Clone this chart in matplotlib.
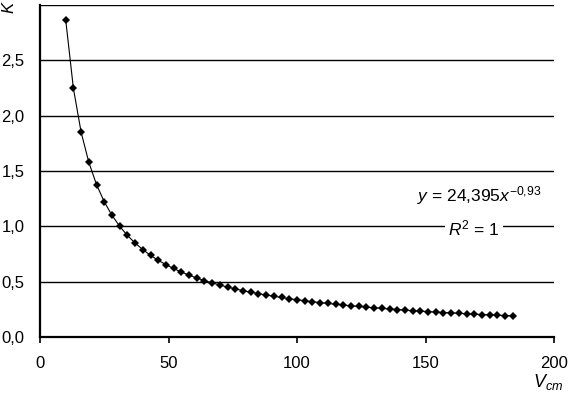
import matplotlib
matplotlib.use("Agg")
import matplotlib.pyplot as plt

v_cm = [10, 13, 16, 19, 22, 25, 28, 31, 34, 37, 40, 43, 46, 49, 52, 55, 58, 61,
        64, 67, 70, 73, 76, 79, 82, 85, 88, 91, 94, 97, 100, 103, 106, 109, 112,
        115, 118, 121, 124, 127, 130, 133, 136, 139, 142, 145, 148, 151, 154,
        157, 160, 163, 166, 169, 172, 175, 178, 181, 184]
k_vals = [2.866, 2.246, 1.851, 1.578, 1.377, 1.222, 1.100, 1.001, 0.918, 0.849,
          0.790, 0.738, 0.693, 0.654, 0.619, 0.587, 0.559, 0.533, 0.510, 0.489,
          0.469, 0.451, 0.435, 0.419, 0.405, 0.392, 0.379, 0.368, 0.357, 0.346,
          0.337, 0.328, 0.319, 0.311, 0.303, 0.296, 0.289, 0.282, 0.276, 0.270,
          0.264, 0.258, 0.253, 0.248, 0.243, 0.238, 0.234, 0.230, 0.225, 0.221,
          0.218, 0.214, 0.210, 0.207, 0.203, 0.200, 0.197, 0.194, 0.191]

x_ticks = [0, 50, 100, 150, 200]
y_ticks = [0.0, 0.5, 1.0, 1.5, 2.0, 2.5, 3.0]
y_tick_labels = ["0,0", "0,5", "1,0", "1,5", "2,0", "2,5", ""]

plt.rcParams['font.family'] = ['Liberation Sans', 'DejaVu Sans']
plt.rcParams['mathtext.fontset'] = 'custom'
plt.rcParams['mathtext.rm'] = 'Liberation Sans'
plt.rcParams['mathtext.it'] = 'Liberation Sans:italic'

fig = plt.figure(figsize=(5.69, 3.94), dpi=100)
ax = fig.add_axes([40 / 569, 57 / 394, 514 / 569, 332 / 394])

ax.plot(v_cm, k_vals, color='black', lw=0.8, marker='D', ms=4.2,
        markeredgewidth=0, zorder=3)

ax.set_xlim(0, 200)
ax.set_ylim(0, 3.0)
ax.set_xticks(x_ticks)
ax.set_xticklabels([str(t) for t in x_ticks], fontsize=12)
ax.set_yticks(y_ticks)
ax.set_yticklabels(y_tick_labels, fontsize=12)
ax.tick_params(axis='x', direction='out', length=4.5, width=1.2, pad=9)
ax.tick_params(axis='y', length=0, pad=11)

ax.grid(axis='y', color='black', lw=1.0)
ax.set_axisbelow(True)
for side in ['top', 'right']:
    ax.spines[side].set_visible(False)
for side in ['left', 'bottom']:
    ax.spines[side].set_linewidth(1.6)

# trendline equation
ax.text((479 - 40) / 514, (337 - 196) / 332, r"$y$ = 24,395$x^{-0{,}93}$",
        transform=ax.transAxes, ha='center', va='center', fontsize=12.5)
ax.text((474 - 40) / 514, (337 - 228) / 332, r"$R^2$ = 1",
        transform=ax.transAxes, ha='center', va='center', fontsize=12.5,
        bbox=dict(facecolor='white', edgecolor='none', pad=2))

# axis titles
fig.text(548 / 569, 1 - 382 / 394, r"$V_{cm}$", ha='center', va='center',
         fontsize=13)
fig.text(9 / 569, 1 - 7 / 394, r"$K$", ha='center', va='center',
         fontsize=12, rotation=90)

fig.savefig("out.png", dpi=100)
